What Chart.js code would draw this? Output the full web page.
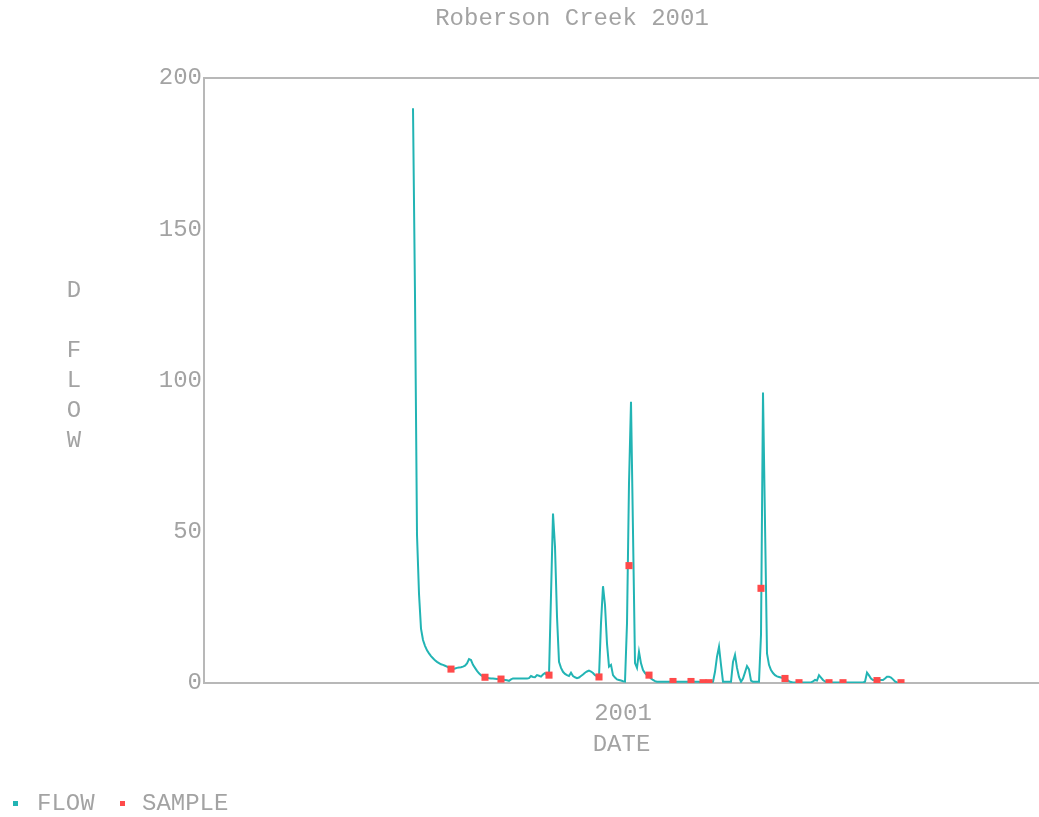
<!DOCTYPE html>
<html>
<head>
<meta charset="utf-8">
<script src="https://cdn.jsdelivr.net/npm/chart.js@4/dist/chart.umd.min.js"></script>
<style>
  html, body { margin: 0; padding: 0; background: #fff; }
  #wrap { width: 1039px; height: 817px; }
</style>
</head>
<body>
<div id="wrap"><canvas id="flowChart" width="1039" height="817"></canvas></div>
<script>
// daily flow, one value per day starting at flowStartDay
const flowStartDay = 0;
const flowValues = [
  190, 128, 49, 29.5, 18, 14.2, 12.3, 10.8, 9.8, 8.9,
  8.2, 7.5, 7.0, 6.6, 6.2, 6.0, 5.7, 5.4, 5.0, 4.6,
  4.6, 4.8, 5.0, 5.1, 5.2, 5.4, 5.7, 6.5, 7.9, 7.6,
  6.0, 5.0, 4.0, 3.2, 2.6, 2.2, 1.9, 1.7, 1.6, 1.5,
  1.5, 1.4, 1.3, 1.3, 1.2, 1.1, 1.0, 0.9, 0.7, 1.2,
  1.5, 1.5, 1.5, 1.5, 1.5, 1.5, 1.5, 1.5, 1.6, 2.3,
  2.0, 1.9, 2.6, 2.4, 2.1, 2.8, 3.3, 2.6, 2.6, 29,
  56, 45, 22, 7.0, 5.0, 3.7, 3.0, 2.6, 2.3, 3.4,
  2.3, 1.9, 1.6, 1.8, 2.3, 2.8, 3.4, 3.8, 4.1, 3.8,
  3.3, 2.6, 2.3, 2.0, 19.8, 32, 25.8, 13, 5.4, 6.0,
  2.6, 1.8, 1.2, 1.0, 0.8, 0.6, 0.5, 19.7, 66, 93,
  50, 6.6, 5.0, 10.3, 6.5, 4.3, 3.3, 2.6, 2.3, 1.5,
  1.0, 0.6, 0.4, 0.4, 0.4, 0.4, 0.4, 0.4, 0.4, 0.4,
  0.4, 0.4, 0.4, 0.4, 0.4, 0.4, 0.4, 0.4, 0.4, 0.4,
  0.4, 0.4, 0.4, 0.4, 0.1, 0.1, 0.1, 0.1, 0.1, 0.1,
  0.4, 3.7, 8.7, 12, 6, 0.4, 0.4, 0.4, 0.4, 0.4,
  7, 9.3, 5, 2, 0.4, 1.5, 3.5, 5.6, 4.5, 0.8,
  0.4, 0.4, 0.4, 0.4, 16, 96, 53, 9.8, 6, 4.3,
  3.3, 2.6, 2.2, 2.0, 1.8, 1.6, 1.4, 1.0, 0.6, 0.3,
  0.2, 0.2, 0.2, 0.2, 0.2, 0.2, 0.2, 0.2, 0.2, 0.2,
  0.5, 1.0, 0.8, 2.6, 1.8, 1.0, 0.5, 0.2, 0.2, 0.2,
  0.2, 0.2, 0.2, 0.2, 0.2, 0.2, 0.2, 0.2, 0.2, 0.2,
  0.2, 0.2, 0.2, 0.2, 0.2, 0.2, 0.4, 3.4, 2.5, 1.5,
  1.0, 1.0, 1.0, 1.0, 1.0, 1.0, 1.5, 2.1, 2.1, 1.8,
  1.2, 0.5, 0.2, 0.1, 0.1
];

// sample measurements
const sampleDays   = [19, 36, 44, 68, 93, 108, 118, 130, 139, 145, 148, 174, 186, 193, 208, 215, 232, 244];
const sampleValues = [4.6, 1.9, 1.3, 2.6, 2.0, 38.8, 2.6, 0.5, 0.5, 0.1, 0.1, 31.3, 1.5, 0.1, 0.1, 0.1, 0.8, 0.1];

const yTicks = [0, 50, 100, 150, 200];
const xTickDays = [105];
const xTickLabels = ['2001'];
const xMin = -104.5;
const xMax = 313;

const FONT = '"Liberation Mono", "DejaVu Sans Mono", monospace';
const GREY = '#a3a3a3';
const AXIS = '#b8b8b8';
const TEAL = 'rgb(34,180,180)';
const RED = '#ff4a4a';

const flowPoints = flowValues.map((v, i) => ({ x: flowStartDay + i, y: v }));
const samplePoints = sampleDays.map((d, i) => ({ x: d, y: sampleValues[i] }));

// title, stacked y label and legend drawn as text on the canvas
const textPlugin = {
  id: 'texts',
  afterDraw(chart) {
    const ctx = chart.ctx;
    ctx.save();
    ctx.font = '24px ' + FONT;
    ctx.fillStyle = GREY;
    ctx.textBaseline = 'middle';
    ctx.textAlign = 'center';
    ctx.fillText('Roberson Creek 2001', 572, 19);

    const letters = ['D', '', 'F', 'L', 'O', 'W'];
    letters.forEach((ch, i) => ctx.fillText(ch, 74, 291 + i * 30));

    // legend
    ctx.textAlign = 'left';
    ctx.fillStyle = TEAL;
    ctx.fillRect(13, 801, 5, 5);
    ctx.fillStyle = GREY;
    ctx.fillText('FLOW', 37, 804);
    ctx.fillStyle = RED;
    ctx.fillRect(120, 801, 5, 5);
    ctx.fillStyle = GREY;
    ctx.fillText('SAMPLE', 142, 804);
    ctx.restore();
  }
};

const ctx = document.getElementById('flowChart').getContext('2d');
const flowChart = new Chart(ctx, {
  type: 'line',
  data: {
    datasets: [
      {
        label: 'SAMPLE',
        data: samplePoints,
        showLine: false,
        pointStyle: 'rect',
        pointRadius: 5,
        pointBackgroundColor: RED,
        pointBorderWidth: 0,
        order: 0
      },
      {
        label: 'FLOW',
        data: flowPoints,
        borderColor: TEAL,
        borderWidth: 2,
        pointRadius: 0,
        tension: 0,
        fill: false,
        order: 1
      }
    ]
  },
  options: {
    responsive: false,
    animation: false,
    layout: { autoPadding: false, padding: { top: 78, right: 0, bottom: 0, left: 0 } },
    plugins: {
      legend: { display: false },
      title: { display: false },
      tooltip: { enabled: false }
    },
    scales: {
      x: {
        type: 'linear',
        min: xMin,
        max: xMax,
        afterBuildTicks: scale => {
          scale.ticks = xTickDays.map(v => ({ value: v }));
        },
        afterFit: scale => { scale.height = 134; },
        ticks: {
          autoSkip: false,
          maxRotation: 0,
          color: GREY,
          font: { family: FONT, size: 24 },
          padding: 8,
          callback: (value) => {
            const i = xTickDays.indexOf(value);
            return i >= 0 ? xTickLabels[i] : '';
          }
        },
        grid: { display: false },
        border: { display: true, color: AXIS, width: 2 },
        title: {
          display: true,
          text: 'DATE',
          color: GREY,
          font: { family: FONT, size: 24 },
          padding: { top: 0, bottom: 58 }
        }
      },
      y: {
        min: 0,
        max: 200,
        afterBuildTicks: scale => {
          scale.ticks = yTicks.map(v => ({ value: v }));
        },
        afterFit: scale => { scale.width = 204; },
        ticks: {
          color: GREY,
          font: { family: FONT, size: 24 },
          padding: 2
        },
        grid: {
          drawTicks: false,
          lineWidth: 2,
          color: c => (c.tick.value === 200 ? AXIS : 'rgba(0,0,0,0)')
        },
        border: { display: true, color: AXIS, width: 2 }
      }
    }
  },
  plugins: [textPlugin]
});
</script>
</body>
</html>
